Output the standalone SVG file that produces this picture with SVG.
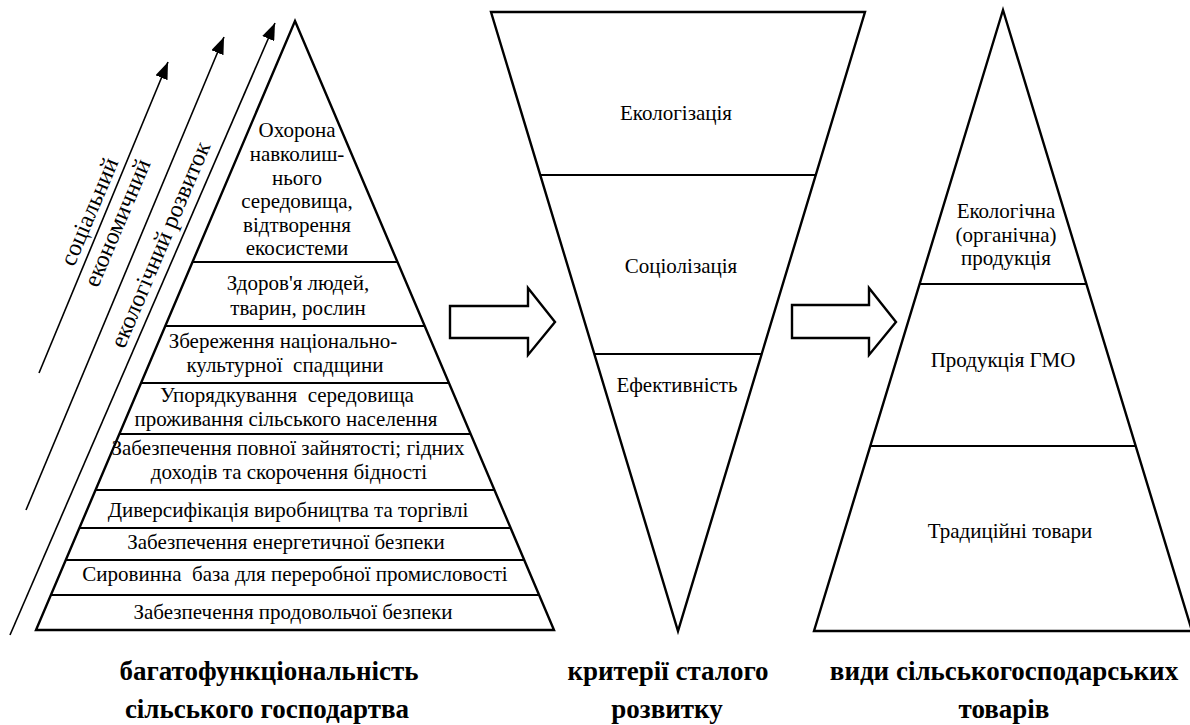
<svg xmlns="http://www.w3.org/2000/svg" width="1190" height="725" viewBox="0 0 1190 725">
<style>
.shape{fill:#fff;stroke:#000;stroke-width:2.4;stroke-linejoin:miter}
.sep{stroke:#000;stroke-width:2.2;fill:none}
.t{font-family:"Liberation Serif","Times New Roman",serif;font-size:21px;fill:#000;text-anchor:middle}
.rt{font-family:"Liberation Serif","Times New Roman",serif;font-size:24px;fill:#000;text-anchor:middle}
.cap{font-family:"Liberation Serif","Times New Roman",serif;font-size:27px;font-weight:bold;fill:#000;text-anchor:middle}
.axis{stroke:#000;stroke-width:1.6;fill:none}
.big{fill:#fff;stroke:#000;stroke-width:2.4;stroke-linejoin:miter}
</style>
<defs>
<marker id="ah" markerUnits="userSpaceOnUse" markerWidth="18" markerHeight="13" refX="17" refY="6.5" orient="auto">
<path d="M0,0 L17,6.5 L0,13 Z" fill="#000"/>
</marker>
</defs>
<rect width="1190" height="725" fill="#fff"/>

<g id="pyramid-functions">
<polygon class="shape" points="295,21 554,630 36,630"/>
<g id="layer-env">
<text class="t" x="297" y="137">Охорона</text>
<text class="t" x="297" y="161">навколиш-</text>
<text class="t" x="297" y="185">нього</text>
<text class="t" x="297" y="208">середовища,</text>
<text class="t" x="297" y="232">відтворення</text>
<text class="t" x="297" y="255">екосистеми</text>
</g>
<line class="sep" x1="192" y1="262" x2="398" y2="262"/>
<g id="layer-health">
<text class="t" x="298" y="290">Здоров'я людей,</text>
<text class="t" x="298" y="315">тварин, рослин</text>
</g>
<line class="sep" x1="165" y1="326" x2="425" y2="326"/>
<g id="layer-heritage">
<text class="t" x="283" y="348">Збереження національно-</text>
<text class="t" x="285" y="372">культурної&#160; спадщини</text>
</g>
<line class="sep" x1="141" y1="383" x2="449" y2="383"/>
<g id="layer-habitat">
<text class="t" x="287" y="402">Упорядкування&#160; середовища</text>
<text class="t" x="286" y="426">проживання сільського населення</text>
</g>
<line class="sep" x1="119" y1="434" x2="471" y2="434"/>
<g id="layer-employment">
<text class="t" x="288" y="455">Забезпечення повної зайнятості; гідних</text>
<text class="t" x="289" y="479">доходів та скорочення бідності</text>
</g>
<line class="sep" x1="95" y1="490" x2="495" y2="490"/>
<g id="layer-diversification">
<text class="t" x="288" y="517">Диверсифікація виробництва та торгівлі</text>
</g>
<line class="sep" x1="79" y1="528" x2="511" y2="528"/>
<g id="layer-energy">
<text class="t" x="286" y="549">Забезпечення енергетичної безпеки</text>
</g>
<line class="sep" x1="66" y1="560" x2="524" y2="560"/>
<g id="layer-raw">
<text class="t" x="295" y="581">Сировинна&#160; база для переробної промисловості</text>
</g>
<line class="sep" x1="51" y1="595" x2="539" y2="595"/>
<g id="layer-food">
<text class="t" x="293" y="619">Забезпечення продовольчої безпеки</text>
</g>
</g>

<g id="axis-labels">
<text class="rt" transform="translate(90,212) rotate(-67)" y="7">соціальний</text>
<text class="rt" transform="translate(118,223) rotate(-67)" y="7">економичний</text>
<text class="rt" transform="translate(161,245) rotate(-67)" y="7">екологічний розвиток</text>
</g>

<g id="criteria">
<polygon class="shape" points="491,12 865,12 678,631"/>
<g id="crit-eco"><text class="t" x="676" y="120">Екологізація</text></g>
<line class="sep" x1="540" y1="175" x2="816" y2="175"/>
<g id="crit-soc"><text class="t" x="681" y="273">Соціолізація</text></g>
<line class="sep" x1="594" y1="354" x2="762" y2="354"/>
<g id="crit-eff"><text class="t" x="677" y="392">Ефективність</text></g>
</g>

<g id="goods">
<polygon class="shape" points="1003,10 1192,631 814,631"/>
<g id="goods-eco">
<text class="t" x="1006" y="218">Екологічна</text>
<text class="t" x="1006" y="242">(органічна)</text>
<text class="t" x="1006" y="265">продукція</text>
</g>
<line class="sep" x1="920" y1="284" x2="1087" y2="284"/>
<g id="goods-gmo"><text class="t" x="1003" y="367">Продукція ГМО</text></g>
<line class="sep" x1="870" y1="446" x2="1136" y2="446"/>
<g id="goods-trad"><text class="t" x="1010" y="538">Традиційні товари</text></g>
</g>

<g id="connectors">
<line class="axis" x1="39" y1="373" x2="168" y2="62" marker-end="url(#ah)"/>
<line class="axis" x1="26" y1="510" x2="224" y2="37" marker-end="url(#ah)"/>
<line class="axis" x1="10" y1="635" x2="275" y2="23" marker-end="url(#ah)"/>
<polygon class="big" points="450,306 528,306 528,288 555,322 528,355 528,338 450,338"/>
<polygon class="big" points="792,305 869,305 869,288 896,322 869,355 869,338 792,338"/>
</g>

<g id="captions">
<text class="cap" x="269" y="680">багатофункціональність</text>
<text class="cap" x="267" y="718">сільського господартва</text>
<text class="cap" x="668" y="680">критерії сталого</text>
<text class="cap" x="667" y="718">розвитку</text>
<text class="cap" x="1004" y="680">види сільськогосподарських</text>
<text class="cap" x="1004" y="718">товарів</text>
</g>
</svg>
